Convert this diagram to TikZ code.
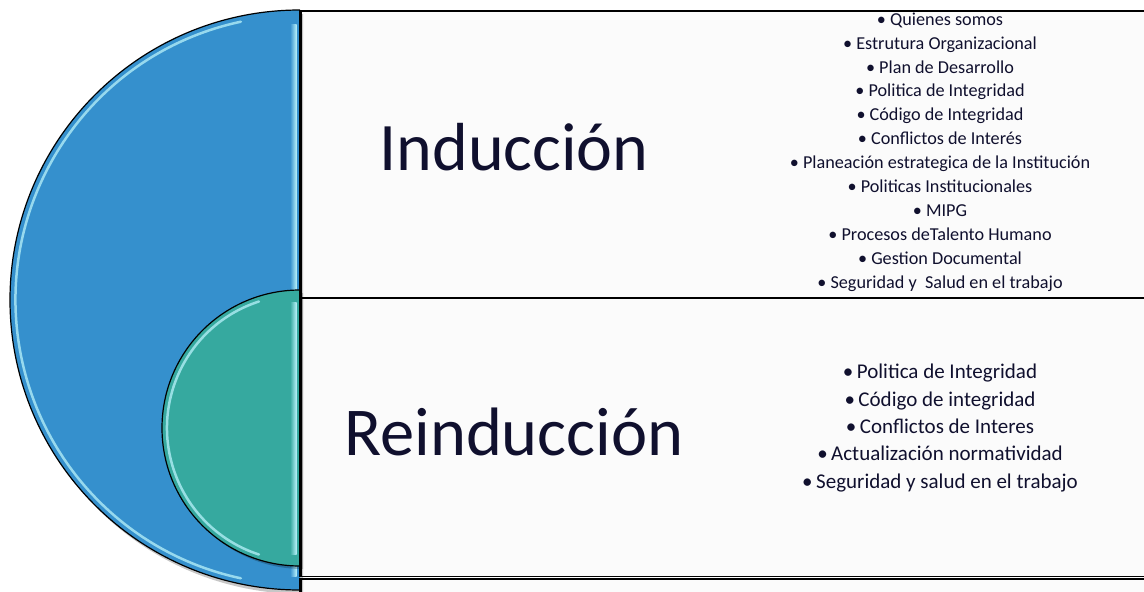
\documentclass[tikz,border=0pt]{standalone}
\usepackage{fontspec}
\setmainfont{Carlito}
\definecolor{bblue}{HTML}{3590CD}
\definecolor{bteal}{HTML}{36A99F}
\definecolor{hlcyan}{HTML}{B8F2FA}
\definecolor{txt}{HTML}{10102E}
\definecolor{panelfill}{HTML}{FBFBFB}
\tikzset{
  panel/.style={draw=black, line width=1.6pt, fill=panelfill, anchor=north west, inner sep=0pt},
  disk/.style={draw=black, line width=1.2pt},
  shadowfill/.style={fill=black, opacity=0.22},
  glint/.style={draw=hlcyan, line width=2.5pt, opacity=0.75, line cap=round},
  biglabel/.style={text=txt, anchor=base},
  listtext/.style={text=txt, align=center, inner sep=0pt}
}
\begin{document}
\begin{tikzpicture}[x=1pt,y=-1pt]
\useasboundingbox (0,0) rectangle (1144,592);
% panels
\node[panel, minimum width=870pt, minimum height=40pt] (p3) at (300,578) {};
\node[panel, minimum width=870pt, minimum height=278pt] (p2) at (300,297.5) {};
\node[panel, minimum width=870pt, minimum height=287pt] (p1) at (300,10) {};
% big blue half disk
\fill[shadowfill] (303,14) arc[start angle=270, end angle=90, radius=290] -- cycle;
\fill[bblue] (300,10) arc[start angle=270, end angle=90, radius=290] -- cycle;
\draw[glint] (300,300) ++(258:284.5) arc[start angle=258, end angle=102, radius=284.5];
\shade[left color=bblue, right color=hlcyan] (290,24) rectangle (296.5,576);
\draw[disk] (300,10) arc[start angle=270, end angle=90, radius=290];
% teal half disk
\fill[shadowfill] (303,293) arc[start angle=270, end angle=90, radius=138] -- cycle;
\fill[bteal] (300,290) arc[start angle=270, end angle=90, radius=138] -- cycle;
\draw[glint] (300,428) ++(252:133) arc[start angle=252, end angle=108, radius=133];
\shade[left color=bteal, right color=hlcyan] (290,302) rectangle (296.5,554);
\draw[disk] (300,290) arc[start angle=270, end angle=90, radius=138];
% panel left edges over disks
\draw[line width=1.6pt] (p1.north west) -- (p1.south west);
\draw[line width=1.6pt] (p2.north west) -- (p2.south west);
\draw[line width=1.6pt] (p3.north west) -- (p3.south west);
% labels
\node[biglabel, font=\fontsize{68}{74}\selectfont] (ind) at (514,170) {Inducción};
\node[biglabel, font=\fontsize{68.5}{74}\selectfont] (reind) at (514,455) {Reinducción};
\node[listtext, font=\fontsize{18.2}{23.9}\selectfont] (l1) at (940,152) {%
• Quienes somos\\
• Estrutura Organizacional\\
• Plan de Desarrollo\\
• Politica de Integridad\\
• Código de Integridad\\
• Conflictos de Interés\\
• Planeación estrategica de la Institución\\
• Politicas Institucionales\\
• MIPG\\
• Procesos deTalento Humano\\
• Gestion Documental\\
• Seguridad y\ \ Salud en el trabajo};
\node[listtext, font=\fontsize{21}{27.3}\selectfont] (l2) at (940,428) {%
•\,Politica de Integridad\\
•\,Código de integridad\\
•\,Conflictos de Interes\\
•\,Actualización normatividad\\
•\,Seguridad y salud en el trabajo};
\end{tikzpicture}
\end{document}
